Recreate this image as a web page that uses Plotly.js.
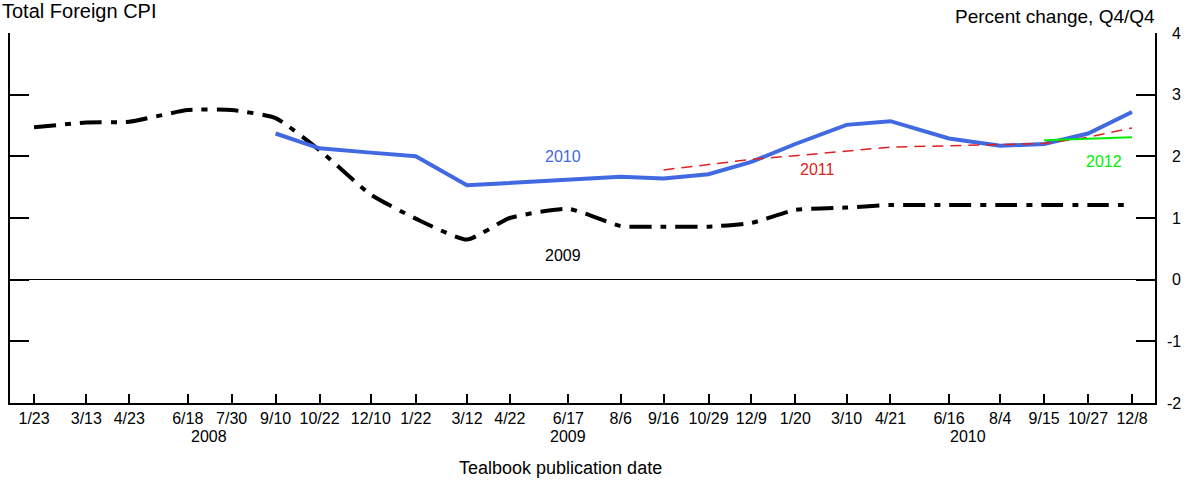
<!DOCTYPE html>
<html>
<head>
<meta charset="utf-8">
<script src="https://cdn.plot.ly/plotly-3.0.1.min.js"></script>
<style>html,body{margin:0;padding:0;background:#fff;}#chart{width:1188px;height:481px;}</style>
</head>
<body>
<div id="chart"></div>
<script>
// Tealbook publication dates (x categories)
const dates = [
  '2008-01-23','2008-03-13','2008-04-23','2008-06-18','2008-07-30','2008-09-10','2008-10-22','2008-12-10',
  '2009-01-22','2009-03-12','2009-04-22','2009-06-17','2009-08-06','2009-09-16','2009-10-29','2009-12-09',
  '2010-01-20','2010-03-10','2010-04-21','2010-06-16','2010-08-04','2010-09-15','2010-10-27','2010-12-08'
];
const tickLabels = [
  '1/23','3/13','4/23','6/18','7/30','9/10','10/22','12/10',
  '1/22','3/12','4/22','6/17','8/6','9/16','10/29','12/9',
  '1/20','3/10','4/21','6/16','8/4','9/15','10/27','12/8'
];
const yearLabels = ['2008','2009','2010'];
const yearLabelDates = ['2008-07-08','2009-06-17','2010-07-04'];

// Forecasts of Q4/Q4 total foreign CPI, by year forecast
const cpi2009 = [2.47,2.55,2.56,2.75,2.75,2.62,2.10,1.38,0.99,0.65,1.00,1.15,0.87,0.86,0.86,0.92,1.13,1.17,1.21,1.21,1.21,1.21,1.21,1.21];
const dates2010 = dates.slice(5);
const cpi2010 = [2.37,2.13,2.06,2.00,1.53,1.57,1.62,1.67,1.64,1.71,1.91,2.20,2.51,2.57,2.29,2.17,2.20,2.37,2.72];
const dates2011 = dates.slice(13);
const cpi2011 = [1.78,1.87,1.95,2.01,2.08,2.15,2.17,2.19,2.21,2.31,2.46];
const dates2012 = dates.slice(21);
const cpi2012 = [2.26,2.29,2.31];

const yTicks = [-2,-1,0,1,2,3,4];

const FONT = 'Liberation Sans, Arial, sans-serif';

const traces = [
  {x: dates, y: cpi2009, type:'scatter', mode:'lines', name:'2009',
   line:{color:'#000000', width:4, dash:'22px,9px,6px,9px', shape:'spline', smoothing:0.5}},
  {x: dates2010, y: cpi2010, type:'scatter', mode:'lines', name:'2010',
   line:{color:'#4169E1', width:4}},
  {x: dates2011, y: cpi2011, type:'scatter', mode:'lines', name:'2011',
   line:{color:'#DD2222', width:1.5, dash:'11px,7px'}},
  {x: dates2012, y: cpi2012, type:'scatter', mode:'lines', name:'2012',
   line:{color:'#00EE00', width:2}}
];

const annotations = [];
// right-aligned y tick labels
yTicks.forEach(v => annotations.push({
  xref:'paper', yref:'y', x:1, y:v, xanchor:'right', yanchor:'middle', xshift:28,
  text:String(v), showarrow:false, font:{family:FONT, size:16, color:'#000'}
}));
// year labels
yearLabels.forEach((t,i) => annotations.push({
  xref:'x', yref:'paper', x:yearLabelDates[i], y:-0.09, xanchor:'center', yanchor:'middle',
  text:t, showarrow:false, font:{family:FONT, size:16, color:'#000'}
}));
// series labels
annotations.push(
  {xref:'x', yref:'y', x:'2009-06-12', y:2.0, text:'2010', showarrow:false, font:{family:FONT,size:16,color:'#4169E1'}},
  {xref:'x', yref:'y', x:'2009-06-12', y:0.39, text:'2009', showarrow:false, font:{family:FONT,size:16,color:'#000'}},
  {xref:'x', yref:'y', x:'2010-02-10', y:1.79, text:'2011', showarrow:false, font:{family:FONT,size:16,color:'#DD2222'}},
  {xref:'x', yref:'y', x:'2010-11-11', y:1.91, text:'2012', showarrow:false, font:{family:FONT,size:16,color:'#00EE00'}}
);
// titles
annotations.push(
  {xref:'paper', yref:'paper', x:0, xshift:-10, y:1, yshift:9, xanchor:'left', yanchor:'bottom',
   text:'Total Foreign CPI', showarrow:false, font:{family:FONT,size:20,color:'#000'}},
  {xref:'paper', yref:'paper', x:1, xshift:2, y:1, yshift:17, xanchor:'right', yanchor:'middle',
   text:'Percent change, Q4/Q4', showarrow:false, font:{family:FONT,size:19,color:'#000'}},
  {xref:'paper', yref:'paper', x:0.481, y:-0.177, xanchor:'center', yanchor:'middle',
   text:'Tealbook publication date', showarrow:false, font:{family:FONT,size:18,color:'#000'}}
);

const layout = {
  width:1188, height:481,
  margin:{l:10, r:33, t:33, b:78, pad:0},
  paper_bgcolor:'#fff', plot_bgcolor:'#fff',
  showlegend:false,
  font:{family:FONT, size:16, color:'#000'},
  xaxis:{
    type:'date', range:['2007-12-31','2010-12-30'],
    tickmode:'array', tickvals:dates, ticktext:tickLabels,
    ticks:'inside', ticklen:9, tickwidth:2, tickcolor:'#000',
    showline:true, linecolor:'#000', linewidth:2,
    showgrid:false, zeroline:false,
    tickfont:{family:FONT, size:16, color:'#000'}, tickangle:0
  },
  yaxis:{
    side:'right', range:[-2,4], tickmode:'array', tickvals:yTicks,
    ticks:'inside', ticklen:19, tickwidth:2, tickcolor:'#000',
    showticklabels:false,
    showline:true, linecolor:'#000', linewidth:2, mirror:'ticks',
    showgrid:false, zeroline:true, zerolinecolor:'#000', zerolinewidth:1.5
  },
  annotations:annotations
};

Plotly.newPlot('chart', traces, layout, {staticPlot:true, displayModeBar:false});
</script>
</body>
</html>
